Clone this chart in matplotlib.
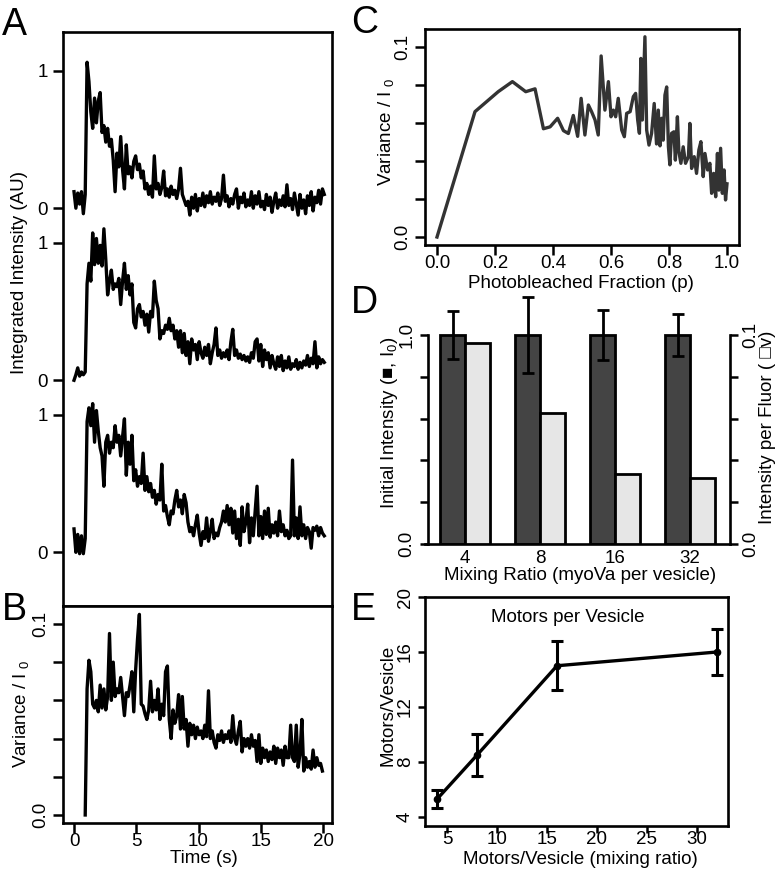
import numpy as np
import matplotlib
matplotlib.use("Agg")
import matplotlib.pyplot as plt

# ---------------- data ----------------
DT = 0.15
# Panel A traces (normalised integrated intensity), sampled every DT seconds from t = 0
trace1 = [0.12, 0.00, 0.11, 0.03, 0.12, -0.04, 0.10, 1.06, 0.92, 0.70, 0.58, 0.80, 0.62, 0.78, 0.84,
          0.55, 0.60, 0.48, 0.58, 0.45, 0.50, 0.35, 0.12, 0.40, 0.30, 0.52, 0.28, 0.14, 0.46, 0.25,
          0.30, 0.22, 0.34, 0.38, 0.28, 0.32, 0.22, 0.27, 0.14, 0.18, 0.10, 0.16, 0.08, 0.38, 0.14,
          0.18, 0.10, 0.15, 0.27, 0.09, 0.14, 0.08, 0.16, 0.10, 0.13, 0.07, 0.14, 0.29, 0.10, 0.06,
          0.02, 0.05, -0.05, 0.08, 0.00, 0.10, -0.02, 0.07, 0.02, 0.11, 0.01, 0.09, 0.04, 0.12, 0.03,
          0.08, 0.05, 0.11, 0.02, 0.07, 0.24, 0.05, 0.09, 0.01, 0.07, 0.03, 0.10, 0.14, 0.00, 0.08,
          0.04, 0.11, 0.01, 0.06, 0.02, 0.12, 0.00, 0.09, 0.03, 0.12, 0.01, 0.05, -0.01, 0.10, 0.02,
          0.08, -0.03, 0.05, 0.11, 0.00, 0.06, 0.02, 0.09, 0.01, 0.17, 0.02, 0.07, -0.01, 0.11, 0.03,
          -0.05, 0.10, 0.00, 0.06, -0.04, 0.09, 0.02, 0.12, -0.02, 0.08, 0.04, 0.13, 0.03, 0.14, 0.10]
trace2 = [0.00, 0.04, 0.09, 0.03, 0.06, 0.04, 0.06, 0.70, 0.85, 0.72, 1.07, 0.84, 1.03, 0.85, 0.98,
          0.83, 1.10, 0.88, 0.62, 0.72, 0.80, 0.66, 0.70, 0.68, 0.74, 0.55, 0.72, 0.85, 0.66, 0.76,
          0.62, 0.70, 0.42, 0.38, 0.52, 0.55, 0.46, 0.50, 0.40, 0.48, 0.35, 0.50, 0.46, 0.72, 0.58,
          0.52, 0.30, 0.36, 0.34, 0.40, 0.37, 0.45, 0.36, 0.40, 0.30, 0.36, 0.24, 0.36, 0.20, 0.34,
          0.18, 0.28, 0.12, 0.30, 0.22, 0.26, 0.15, 0.28, 0.20, 0.16, 0.24, 0.18, 0.26, 0.12, 0.20,
          0.26, 0.38, 0.18, 0.22, 0.16, 0.20, 0.17, 0.22, 0.15, 0.28, 0.37, 0.18, 0.22, 0.16, 0.19,
          0.15, 0.18, 0.14, 0.17, 0.13, 0.20, 0.16, 0.28, 0.30, 0.14, 0.26, 0.10, 0.22, 0.15, 0.20,
          0.09, 0.18, 0.12, 0.08, 0.17, 0.10, 0.18, 0.07, 0.14, 0.09, 0.17, 0.08, 0.12, 0.10, 0.15,
          0.08, 0.13, 0.09, 0.14, 0.11, 0.18, 0.10, 0.16, 0.12, 0.28, 0.09, 0.17, 0.12, 0.15, 0.13]
trace3 = [0.17, 0.00, 0.13, -0.01, 0.12, -0.01, 0.10, 0.95, 1.05, 0.92, 1.08, 0.80, 1.03, 0.88, 0.76,
          0.70, 0.48, 0.80, 0.85, 0.72, 0.80, 0.76, 0.92, 0.80, 0.85, 0.70, 0.84, 0.97, 0.56, 0.80,
          0.64, 0.85, 0.52, 0.60, 0.48, 0.55, 0.50, 0.72, 0.45, 0.55, 0.44, 0.50, 0.40, 0.45, 0.35,
          0.42, 0.38, 0.64, 0.30, 0.34, 0.26, 0.20, 0.30, 0.28, 0.38, 0.45, 0.33, 0.38, 0.28, 0.42,
          0.36, 0.22, 0.15, 0.18, 0.12, 0.20, 0.27, 0.14, 0.05, 0.15, 0.10, 0.25, 0.08, 0.15, 0.24,
          0.10, 0.14, 0.12, 0.18, 0.22, 0.30, 0.22, 0.34, 0.20, 0.32, 0.14, 0.30, 0.10, 0.24, 0.05,
          0.33, 0.15, 0.22, 0.35, 0.07, 0.25, 0.12, 0.30, 0.48, 0.12, 0.26, 0.10, 0.30, 0.13, 0.32,
          0.11, 0.20, 0.14, 0.22, 0.12, 0.30, 0.15, 0.20, 0.12, 0.16, 0.10, 0.12, 0.67, 0.12, 0.25,
          0.10, 0.33, 0.12, 0.20, 0.10, 0.18, 0.15, 0.03, 0.18, 0.16, 0.19, 0.12, 0.18, 0.14, 0.12]
trace_offsets = [2.5, 1.25, 0.0]
a_tick_labels = ["0", "1"]

# Panel B: variance / I0, sampled every DT seconds from t = 0.9 s
b_start = 0.9
var_b = [0.000, 0.066, 0.081, 0.075, 0.058, 0.056, 0.060, 0.054, 0.068, 0.056, 0.066, 0.055, 0.062,
         0.095, 0.060, 0.080, 0.062, 0.066, 0.064, 0.072, 0.062, 0.052, 0.064, 0.062, 0.068, 0.075,
         0.054, 0.076, 0.092, 0.105, 0.058, 0.057, 0.053, 0.050, 0.055, 0.070, 0.054, 0.060, 0.055,
         0.066, 0.050, 0.058, 0.052, 0.075, 0.078, 0.050, 0.040, 0.055, 0.048, 0.052, 0.063, 0.045,
         0.062, 0.045, 0.050, 0.036, 0.048, 0.042, 0.047, 0.040, 0.046, 0.042, 0.044, 0.040, 0.047,
         0.041, 0.065, 0.040, 0.044, 0.038, 0.035, 0.042, 0.039, 0.044, 0.038, 0.042, 0.040, 0.044,
         0.038, 0.052, 0.040, 0.037, 0.044, 0.049, 0.033, 0.040, 0.036, 0.040, 0.035, 0.042, 0.036,
         0.039, 0.028, 0.042, 0.027, 0.035, 0.030, 0.034, 0.028, 0.033, 0.029, 0.036, 0.027, 0.035,
         0.030, 0.034, 0.026, 0.036, 0.030, 0.030, 0.047, 0.030, 0.028, 0.047, 0.025, 0.032, 0.050,
         0.023, 0.030, 0.025, 0.028, 0.024, 0.034, 0.025, 0.030, 0.026, 0.027, 0.023]

# Panel C: variance vs photobleached fraction
p_c = [0.000, 0.131, 0.211, 0.260, 0.306, 0.338, 0.367, 0.390, 0.416, 0.436, 0.453, 0.470, 0.485,
       0.497, 0.510, 0.522, 0.533, 0.545, 0.556, 0.566, 0.579, 0.591, 0.600, 0.608, 0.616, 0.625,
       0.637, 0.646, 0.654, 0.666, 0.677, 0.685, 0.692, 0.698, 0.703, 0.708, 0.717, 0.723, 0.731,
       0.740, 0.749, 0.757, 0.763, 0.769, 0.775, 0.780, 0.786, 0.792, 0.798, 0.803, 0.809, 0.817,
       0.822, 0.829, 0.834, 0.841, 0.849, 0.857, 0.867, 0.872, 0.878, 0.887, 0.895, 0.903, 0.910,
       0.918, 0.924, 0.933, 0.941, 0.947, 0.954, 0.961, 0.967, 0.972, 0.978, 0.984, 0.990, 0.995, 1.000]
var_c = [0.0000, 0.0660, 0.0765, 0.0818, 0.0765, 0.0780, 0.0570, 0.0580, 0.0625, 0.0560, 0.0545,
         0.0640, 0.0530, 0.0730, 0.0537, 0.0695, 0.0660, 0.0616, 0.0537, 0.0953, 0.0668, 0.0818,
         0.0633, 0.0668, 0.0633, 0.0730, 0.0563, 0.0528, 0.0651, 0.0660, 0.0739, 0.0756, 0.0616,
         0.0546, 0.0940, 0.0616, 0.1054, 0.0563, 0.0484, 0.0546, 0.0703, 0.0490, 0.0668, 0.0480,
         0.0625, 0.0510, 0.0747, 0.0790, 0.0475, 0.0380, 0.0546, 0.0554, 0.0405, 0.0633, 0.0450,
         0.0388, 0.0475, 0.0388, 0.0423, 0.0598, 0.0361, 0.0423, 0.0335, 0.0458, 0.0502, 0.0318,
         0.0440, 0.0353, 0.0388, 0.0230, 0.0335, 0.0212, 0.0440, 0.0247, 0.0467, 0.0230, 0.0353,
         0.0195, 0.0280]

# Panel D
mix_labels = ["4", "8", "16", "32"]
init_intensity = [1.0, 1.0, 1.0, 1.0]
init_err = [0.115, 0.18, 0.12, 0.10]
per_fluor = [0.0962, 0.0627, 0.0335, 0.0316]

# Panel E
mix_ratio = [4, 8, 16, 32]
motors = [5.3, 8.5, 15.0, 16.0]
motors_err = [0.65, 1.55, 1.8, 1.65]

# ---------------- style ----------------
plt.rcParams.update({
    "font.family": ["Liberation Sans", "DejaVu Sans"],
    "font.size": 13.5,
    "mathtext.default": "regular",
    "axes.linewidth": 1.9,
    "xtick.major.width": 1.8,
    "ytick.major.width": 1.8,
    "xtick.major.size": 7,
    "ytick.major.size": 7,
})

W, H = 783, 871
fig = plt.figure(figsize=(W / 100, H / 100), dpi=100)


def add_ax(l, t, r, b):
    return fig.add_axes([l / W, 1 - b / H, (r - l) / W, (b - t) / H])


def ftext(x, y, s, **kw):
    fig.text(x / W, 1 - y / H, s, **kw)


LW = 2.4
TXMIN, TXMAX = -0.884, 20.72

# ---------------- Panel A ----------------
t_a = np.arange(len(trace1)) * DT
axA = add_ax(63, 32, 332, 606)
for vals, off in zip([trace1, trace2, trace3], trace_offsets):
    axA.plot(t_a, np.array(vals) + off, color="black", lw=LW)
axA.set_xlim(TXMIN, TXMAX)
axA.set_ylim(-0.39, 3.78)
axA.set_xticks([])
yt = []
for off in trace_offsets:
    yt += [off, off + 1]
axA.set_yticks(yt)
axA.set_yticklabels(a_tick_labels * 3)
axA.tick_params(axis="y", pad=4)

# ---------------- Panel B ----------------
t_b = b_start + np.arange(len(var_b)) * DT
axB = add_ax(63, 606, 332, 823)
axB.plot(t_b, var_b, color="black", lw=LW)
axB.set_xlim(TXMIN, TXMAX)
axB.set_ylim(-0.0042, 0.1094)
axB.set_xticks([0, 5, 10, 15, 20])
axB.set_yticks(np.arange(6) * 0.02)
axB.set_yticklabels(["0.0", "", "", "", "", "0.1"], rotation=90, va="center")
axB.tick_params(axis="x", pad=0.5)
axB.tick_params(axis="y", pad=3)

# ---------------- Panel C ----------------
axC = add_ax(425, 29, 739, 245)
axC.plot(p_c, var_c, color="#333333", lw=LW)
axC.set_xlim(-0.0414, 1.0414)
axC.set_ylim(-0.0042, 0.1095)
axC.set_xticks(np.arange(6) * 0.2)
axC.set_xticklabels(["0.0", "0.2", "0.4", "0.6", "0.8", "1.0"])
axC.set_yticks(np.arange(6) * 0.02)
axC.set_yticklabels(["0.0", "", "", "", "", "0.1"], rotation=90, va="center")
axC.tick_params(axis="x", pad=0.5)
axC.tick_params(axis="y", pad=3)

# ---------------- Panel D ----------------
axD = add_ax(425, 290, 730, 544)
grp = np.arange(len(mix_labels)) * 3
axD.bar(grp + 1.5, init_intensity, width=1.0, color="#444444", edgecolor="black", lw=2.0, zorder=2)
axD.errorbar(grp + 1.5, init_intensity, yerr=init_err, fmt="none", ecolor="black",
             elinewidth=2.0, capsize=4, capthick=2.0, zorder=3)
axD.set_xlim(0.4, 12.6)
axD.set_ylim(0, 1.215)
axD.spines["top"].set_visible(False)
axD.spines["right"].set_visible(False)
axD.spines["left"].set_position(("data", 0.52))
axD.spines["left"].set_bounds(0, 1.0)
axD.set_yticks(np.arange(6) * 0.2)
axD.set_yticklabels(["0.0", "", "", "", "", "1.0"], rotation=90, va="center")
axD.tick_params(axis="y", length=6, pad=3)
axD.set_xticks(grp + 2)
axD.set_xticklabels(mix_labels)
axD.tick_params(axis="x", length=0, pad=4.5)
axD2 = axD.twinx()
axD2.bar(grp + 2.5, per_fluor, width=1.0, color="#e6e6e6", edgecolor="black", lw=2.0, zorder=2)
axD2.set_ylim(0, 0.1215)
for s in ["top", "left", "bottom"]:
    axD2.spines[s].set_visible(False)
axD2.spines["right"].set_bounds(0, 0.1)
axD2.set_yticks(np.arange(6) * 0.02)
axD2.set_yticklabels(["0.0", "", "", "", "", "0.1"], rotation=90, va="center")
axD2.tick_params(axis="y", length=6, pad=3)

# ---------------- Panel E ----------------
axE = add_ax(425, 597, 728, 826)
axE.errorbar(mix_ratio, motors, yerr=motors_err, fmt="-o", color="black", lw=LW, ms=4.5,
             elinewidth=2.2, capsize=4, capthick=2.2)
axE.set_xlim(2.8, 33.1)
axE.set_ylim(3.345, 20.0)
axE.set_xticks([5, 10, 15, 20, 25, 30])
axE.set_yticks([4, 8, 12, 16, 20])
axE.set_yticklabels(["4", "8", "12", "16", "20"], rotation=90, va="center")
axE.tick_params(axis="x", length=5, pad=-1.5)
axE.tick_params(axis="y", length=5, pad=3)
axE.text(0.47, 0.91, "Motors per Vesicle", transform=axE.transAxes, ha="center", va="center")

# ---------------- labels ----------------
ftext(20, 273, "Integrated Intensity (AU)", rotation=90, ha="center", va="center")
ftext(21, 714, r"Variance / I$_{\ 0}$", rotation=90, ha="center", va="center")
ftext(204, 858, "Time (s)", ha="center", va="center")
ftext(386, 132, r"Variance / I$_{\ 0}$", rotation=90, ha="center", va="center")
ftext(581, 283, "Photobleached Fraction (p)", ha="center", va="center")
ftext(390, 423, "Initial Intensity (\u25a0, I$_0$)", rotation=90, ha="center", va="center")
ftext(768, 427, "Intensity per Fluor ( \u25a1v)", rotation=90, ha="center", va="center")
ftext(580, 575, "Mixing Ratio (myoVa per vesicle)", ha="center", va="center")
ftext(388, 705, "Motors/Vesicle", rotation=90, ha="center", va="center")
ftext(580, 859, "Motors/Vesicle (mixing ratio)", ha="center", va="center")

for letter, x, y in [("A", 2, 35), ("B", 2, 620), ("C", 351, 33), ("D", 351, 313), ("E", 351, 620)]:
    ftext(x, y, letter, fontsize=27, ha="left", va="baseline")

fig.savefig("out.png", dpi=100)
